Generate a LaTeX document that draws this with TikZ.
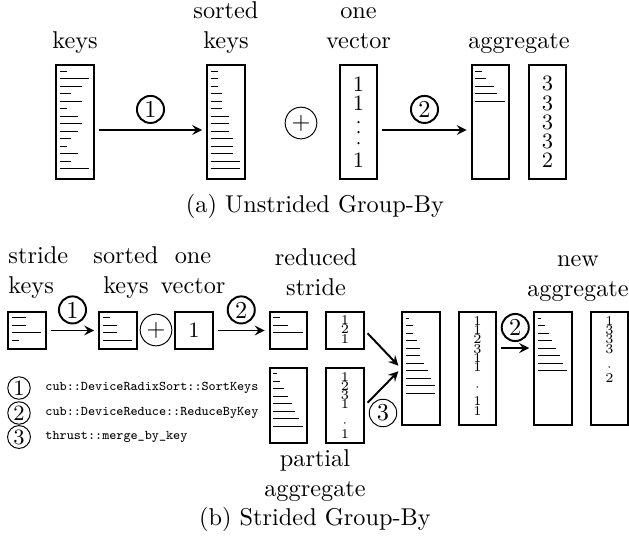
\documentclass[tikz,border=0pt]{standalone}
\usepackage{amsmath}
\usetikzlibrary{arrows.meta, positioning, calc}

\tikzset{
  box/.style={draw, thick, minimum width=15.6pt, inner sep=0pt},
  keyline/.style={line width=0.4pt},
  lbl/.style={align=center, inner sep=0pt, anchor=base},
  num/.style={font=\small, inner sep=0pt, text height=1.5ex, text depth=0pt},
  cnt/.style={font=\fontsize{5.5}{3.83}\selectfont, align=center, inner sep=0pt, anchor=north},
  opnum/.style={circle, draw, inner sep=1pt},
  legnum/.style={circle, draw, inner sep=0.6pt, font=\small},
  legtext/.style={font=\fontsize{5.5}{6.6}\selectfont\ttfamily, inner sep=0pt, anchor=west},
  plus/.style={circle, draw, inner sep=1pt},
  flow/.style={->, thick, shorten <=1.6pt, shorten >=1.6pt},
}

% one short line per key, length = key value
\newcommand{\keylines}[2]{%
  \foreach \v [count=\i] in {#2}
    \draw[keyline] ($(#1.north west)+(4.5,{7.5*\i-0.5})$) -- ++({3.7*\v},0);}
% numbers stacked in a column box, offset from its top
\newcommand{\colvals}[3]{%
  \foreach \d/\y [count=\i] in {#3}
    \node[#2] (#1v\i) at ($(#1.north)+(0,\y)$) {\d};}

\begin{document}
\begin{tikzpicture}[x=0.4115pt, y=-0.4115pt, >=stealth]
  \useasboundingbox (0,0) rectangle (629,541);

  % (a) unstrided
  \node[box, minimum height=46.9pt] (keys) at (75,122) {};
  \node[box, minimum height=46.9pt] (sortkeys) at (226,122) {};
  \node[box, minimum height=46.9pt] (onevec) at (358.5,122) {};
  \node[box, minimum height=46.9pt] (aggkeys) at (490.5,122) {};
  \node[box, minimum height=46.9pt] (aggcnt) at (547.5,122) {};
  \keylines{keys}{2,8,6,3,6,2,5,6,5,3,2,5,3,8}
  \keylines{sortkeys}{2,2,2,3,3,3,5,5,5,6,6,6,8,8}
  \keylines{aggkeys}{2,3,5,6,8}
  \colvals{onevec}{num}{1/20,1/39,1/96}
  \foreach \y in {58,68,79}
    \fill ($(onevec.north)+(0,\y)$) circle (0.5pt);
  \colvals{aggcnt}{num}{3/19,3/39,3/58,3/77,2/96}
  \node[lbl] (lkeys) at (75,48) {keys};
  \node[lbl] (lsort) at (226,48) {sorted\\keys};
  \node[lbl] (lone) at (358.5,48) {one\\vector};
  \node[lbl] (lagg) at (519,48) {aggregate};
  \node[plus] (aplus) at (301,123) {$+$};
  \draw[flow] ([yshift=-3.3pt]keys.east) -- ([yshift=-3.3pt]sortkeys.west)
    node[midway, above=2.5pt, opnum] (aop1) {1};
  \draw[flow] ([yshift=-3.3pt]onevec.east) -- ([yshift=-3.3pt]aggkeys.west)
    node[midway, above=2.5pt, opnum] (aop2) {2};
  \node[lbl] (capa) at (315,212) {(a) Unstrided Group-By};

  % (b) strided
  \node[box, minimum height=15.6pt] (bstride) at (27,330.5) {};
  \node[box, minimum height=15.6pt] (bsorted) at (118,330.5) {};
  \node[box, minimum height=15.6pt, font=\small] (bonevec) at (194,330.5) {1};
  \node[box, minimum height=15.6pt] (redkeys) at (288.5,330.5) {};
  \node[box, minimum height=15.6pt] (redcnt) at (345,330.5) {};
  \node[box, minimum height=30.9pt] (partkeys) at (288.5,405.5) {};
  \node[box, minimum height=30.9pt] (partcnt) at (345,405.5) {};
  \node[box, minimum height=46.5pt] (mrgkeys) at (421,368.5) {};
  \node[box, minimum height=46.5pt] (mrgcnt) at (477.5,368.5) {};
  \node[box, minimum height=46.5pt] (newkeys) at (553,368.5) {};
  \node[box, minimum height=46.5pt] (newcnt) at (609.5,368.5) {};
  \keylines{bstride}{4,4,8,2}
  \keylines{bsorted}{2,4,4,8}
  \keylines{redkeys}{2,4,8}
  \keylines{partkeys}{1,2,3,4,5,6,7,8}
  \keylines{mrgkeys}{1,2,2,3,4,4,5,6,7,8,8}
  \keylines{newkeys}{1,2,3,4,5,6,7,8}
  \node[cnt] (redvals) at ($(redcnt.north)+(0,4.7)$) {1\\2\\1};
  \node[cnt] (partvals) at ($(partcnt.north)+(0,4.7)$)
    {1\\2\\3\\1\\[3.2pt]$\cdot$\\[1.1pt]1};
  \node[cnt] (mrgvals) at ($(mrgcnt.north)+(0,4.7)$)
    {1\\1\\2\\3\\1\\1\\[3.8pt]$\cdot$\\[2.6pt]1\\1};
  \node[cnt] (newvals) at ($(newcnt.north)+(0,4.7)$)
    {1\\3\\3\\3\\[3.2pt]$\cdot$\\[1.1pt]2};
  \node[plus] (bplus) at (156,330) {$+$};
  \draw[flow] (bstride) -- (bsorted) node[midway, above=2.5pt, opnum] (bop1) {1};
  \draw[flow] (bonevec) -- (redkeys) node[midway, above=2.5pt, opnum] (bop2) {2};
  \draw[flow] (redcnt.east) -- (mrgkeys.west);
  \draw[flow] (partcnt.east) -- (mrgkeys.west);
  \node[opnum] (bop3) at (383,413) {3};
  \draw[flow] ([yshift=8.4pt]mrgcnt.east) -- ([yshift=8.4pt]newkeys.west)
    node[midway, above=2.5pt, opnum] (bop4) {2};
  \node[lbl, align=left, anchor=base west] (lstride) at (8,293) {stride\\keys};
  \node[lbl] (lbsort) at (126,293) {sorted\\keys};
  \node[lbl] (lbone) at (193,293) {one\\vector};
  \node[lbl] (lred) at (316,295) {reduced\\stride};
  \node[lbl] (lnew) at (578,296) {new\\aggregate};
  \node[lbl] (lpart) at (315,496) {partial\\aggregate};

  % legend
  \foreach \n/\y/\t in {1/388/cub::DeviceRadixSort::SortKeys,
                        2/413/cub::DeviceReduce::ReduceByKey,
                        3/437/thrust::merge\_by\_key} {
    \node[legnum] (leg\n) at (19,\y) {\n};
    \node[legtext] (legt\n) at (45,\y) {\t};
  }
  \node[lbl] (capb) at (315,525) {(b) Strided Group-By};
\end{tikzpicture}
\end{document}
